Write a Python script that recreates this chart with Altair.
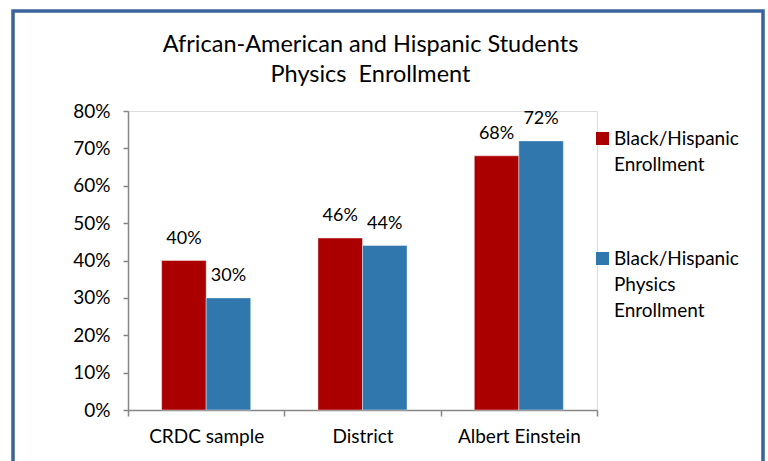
import altair as alt
import pandas as pd

categories = ["CRDC sample", "District", "Albert Einstein"]
series_names = ["Black/Hispanic|Enrollment", "Black/Hispanic|Physics|Enrollment"]
enrollment = [0.40, 0.46, 0.68]
physics = [0.30, 0.44, 0.72]
colors = ["#AA0000", "#2F77AD"]
y_ticks = [0, 0.1, 0.2, 0.3, 0.4, 0.5, 0.6, 0.7, 0.8]
title_lines = ["African-American and Hispanic Students", "Physics\u00a0 Enrollment"]

rows = []
for i, c in enumerate(categories):
    rows.append({"cat": c, "series": series_names[0], "value": enrollment[i]})
    rows.append({"cat": c, "series": series_names[1], "value": physics[i]})
df = pd.DataFrame(rows)

FONT = "Lato"
W, H = 469, 299
AX = "#868686"

x = alt.X("cat:N", sort=categories, title=None,
          scale=alt.Scale(paddingInner=0, paddingOuter=0),
          axis=alt.Axis(tickBand="extent", labelAngle=0, labelFontSize=19, labelFont=FONT,
                        labelColor="black", labelPadding=11, tickSize=6,
                        domainColor=AX, tickColor=AX, domainWidth=1.5, tickWidth=1.5))
xo = alt.XOffset("series:N", sort=series_names,
                 scale=alt.Scale(paddingOuter=0.756, paddingInner=0))
y = alt.Y("value:Q", scale=alt.Scale(domain=[0, 0.8]), title=None,
          axis=alt.Axis(format=".0%", values=y_ticks, grid=False, labelFontSize=19,
                        labelFont=FONT, labelColor="black", tickSize=5, labelPadding=13,
                        domainColor=AX, tickColor=AX, domainWidth=1.5, tickWidth=1.5))
color = alt.Color("series:N", sort=series_names,
                  scale=alt.Scale(domain=series_names, range=colors),
                  legend=alt.Legend(title=None, orient="none", legendX=465, legendY=18,
                                    symbolType="square", symbolSize=169, symbolStrokeWidth=0,
                                    labelFontSize=19, labelFont=FONT, labelColor="black",
                                    labelExpr="split(datum.label, '|')", labelLimit=300,
                                    rowPadding=74, labelOffset=2))

base = alt.Chart(df)
bars = base.mark_bar(stroke="white", strokeOpacity=0.4, strokeWidth=1).encode(
    x=x, xOffset=xo, y=y, color=color)
labels = base.mark_text(dy=-17, baseline="alphabetic", fontSize=18, font=FONT,
                        color="black").encode(
    x=x, xOffset=xo, y=y, text=alt.Text("value:Q", format=".0%"))

border = alt.Chart(alt.Data(values=[{}])).mark_rect(
    fillOpacity=0, stroke="#3A6499", strokeWidth=3.5).encode(
    x=alt.value(-115), x2=alt.value(635), y=alt.value(-100), y2=alt.value(400))

chart = alt.layer(bars, labels, border).properties(
    width=W, height=H,
    title=alt.TitleParams(title_lines, fontSize=23.5, font=FONT, fontWeight="normal",
                          anchor="middle", dx=8, offset=-77, lineHeight=30, color="black"),
    autosize=alt.AutoSizeParams(type="none"),
    padding={"left": 128, "top": 111, "right": 171, "bottom": 51},
).configure_view(stroke=None).configure(
    background="white", style={"guide-label": {"lineHeight": 26}})

chart.save("out.html", embed_options={"renderer": "svg", "actions": False})
